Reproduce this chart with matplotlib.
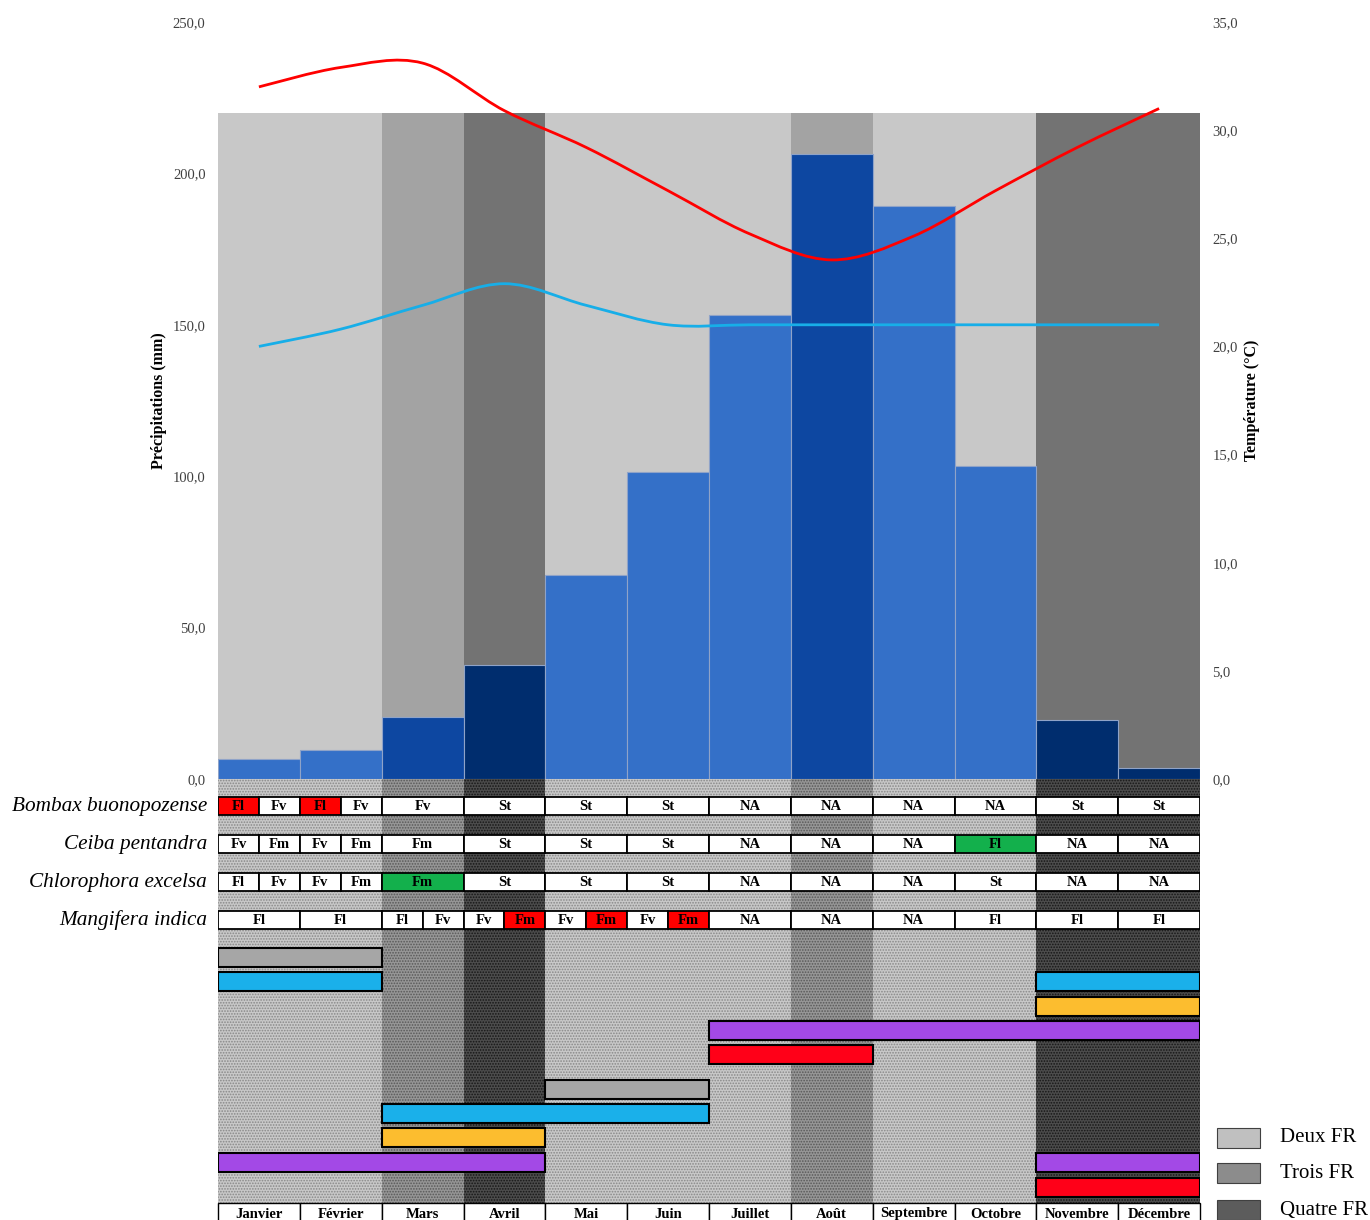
import matplotlib as mpl
mpl.use('Agg')
from matplotlib import pyplot as plt
from matplotlib.path import Path
from matplotlib.patches import PathPatch, Rectangle
from matplotlib.ticker import FuncFormatter
import numpy as np

plt.rcParams['font.family'] = ['Liberation Serif', 'DejaVu Serif']
plt.rcParams['hatch.linewidth'] = 0.8

#data
months = ['Janvier', 'Février', 'Mars', 'Avril', 'Mai', 'Juin', 'Juillet',
          'Août', 'Septembre', 'Octobre', 'Novembre', 'Décembre']
precip = [6.6, 9.6, 20.5, 37.6, 67.4, 101.4, 153.2, 206.4, 189.2, 103.4, 19.5, 3.6]
t_max = [32.0, 32.9, 33.1, 30.9, 29.2, 27.2, 25.2, 24.0, 25.1, 27.2, 29.2, 31.0]
t_min = [20.0, 20.8, 21.9, 22.9, 21.9, 21.0, 21.0, 21.0, 21.0, 21.0, 21.0, 21.0]
nb_fr = [2, 2, 3, 4, 2, 2, 2, 3, 2, 2, 4, 4]

# phenology ('|' splits the month, '*' = red, '+' = green)
species = ['Bombax buonopozense', 'Ceiba pentandra', 'Chlorophora excelsa', 'Mangifera indica']
bombax = ['Fl*|Fv', 'Fl*|Fv', 'Fv', 'St', 'St', 'St', 'NA', 'NA', 'NA', 'NA', 'St', 'St']
ceiba = ['Fv|Fm', 'Fv|Fm', 'Fm', 'St', 'St', 'St', 'NA', 'NA', 'NA', 'Fl+', 'NA', 'NA']
chloro = ['Fl|Fv', 'Fv|Fm', 'Fm+', 'St', 'St', 'St', 'NA', 'NA', 'NA', 'St', 'NA', 'NA']
mango = ['Fl', 'Fl', 'Fl|Fv', 'Fv|Fm*', 'Fv|Fm*', 'Fv|Fm*', 'NA', 'NA', 'NA', 'Fl', 'Fl', 'Fl']
pheno = [bombax, ceiba, chloro, mango]

# period bars (start month, end month, row, kind)
gantt_start = [0, 0, 10, 10, 6, 6, 4, 2, 2, 0, 10, 10]
gantt_end = [2, 2, 12, 12, 12, 8, 6, 6, 4, 4, 12, 12]
gantt_row = [0, 1, 1, 2, 3, 4, 5, 6, 7, 8, 8, 9]
gantt_kind = ['gris', 'bleu', 'bleu', 'orange', 'violet', 'rouge',
              'gris', 'bleu', 'orange', 'violet', 'violet', 'rouge']

legend_labels = ['Deux FR', 'Trois FR', 'Quatre FR']

#styles
bg_col = {2: '#c8c8c8', 3: '#a3a3a3', 4: '#737373'}
bar_col = {2: '#3470c8', 3: '#0d47a1', 4: '#002d6e'}
tex_face = {2: '#c8c8c8', 3: '#969696', 4: '#4c4c4c'}
tex_hatch = {2: '#888888', 3: '#585858', 4: '#161616'}
kind_col = {'gris': '#a6a6a6', 'bleu': '#1ab0ea', 'orange': '#fcbd2f',
            'violet': '#a349e6', 'rouge': '#ff0018'}
hl_col = {'*': '#ff0000', '+': '#13b04c'}
leg_col = ['#c0c0c0', '#8c8c8c', '#5c5c5c']

W, H = 1370, 1220
fig = plt.figure(figsize=(W / 100, H / 100), dpi=100)

x0, x1 = 218, 1200
ax = fig.add_axes([x0 / W, (H - 779) / H, (x1 - x0) / W, (779 - 22) / H])
x = np.arange(12) + 0.5

#background + precipitation
ax.bar(x, [220] * 12, width=1, color=[bg_col[n] for n in nb_fr], zorder=0)
ax.bar(x, precip, width=1, color=[bar_col[n] for n in nb_fr],
       edgecolor='#8fa3c8', linewidth=0.8, zorder=1)
ax.set_xlim(0, 12)
ax.set_ylim(0, 250)
ax.set_yticks(np.arange(0, 251, 50))
ax.set_xticks([])
fmt = FuncFormatter(lambda v, p: ('%.1f' % v).replace('.', ','))
ax.yaxis.set_major_formatter(fmt)
ax.tick_params(axis='y', length=0, pad=9, labelsize=10.5, labelcolor='#404040')
ax.set_ylabel('Précipitations (mm)', fontsize=11.5, fontweight='bold', labelpad=4)
for s in ax.spines.values():
    s.set_visible(False)

#temperature
axt = ax.twinx()
axt.set_ylim(0, 35)
axt.set_yticks(np.arange(0, 36, 5))
axt.yaxis.set_major_formatter(fmt)
axt.tick_params(axis='y', length=0, pad=9, labelsize=10.5, labelcolor='#404040')
axt.set_ylabel('Température (°C)', fontsize=11.5, fontweight='bold', labelpad=4)
for s in axt.spines.values():
    s.set_visible(False)


def smooth_path(xs, ys):
    pts = np.column_stack([xs, ys])
    n = len(pts)
    verts = [pts[0]]
    codes = [Path.MOVETO]
    for i in range(n - 1):
        p0 = pts[max(i - 1, 0)]
        p1 = pts[i]
        p2 = pts[i + 1]
        p3 = pts[min(i + 2, n - 1)]
        verts += [p1 + (p2 - p0) / 6, p2 - (p3 - p1) / 6, p2]
        codes += [Path.CURVE4] * 3
    return Path(verts, codes)


axt.add_patch(PathPatch(smooth_path(x, t_max), fill=False, edgecolor='#ff0000', lw=2.0))
axt.add_patch(PathPatch(smooth_path(x, t_min), fill=False, edgecolor='#17aee8', lw=2.0))

#lower panel (units: pixels below the chart)
axl = fig.add_axes([x0 / W, 0, (x1 - x0) / W, (H - 779) / H])
axl.set_xlim(0, 12)
axl.set_ylim(H - 779, 0)
axl.axis('off')

for m in range(12):
    axl.add_patch(Rectangle((m, 0), 1, 424, facecolor=tex_face[nb_fr[m]],
                            edgecolor=tex_hatch[nb_fr[m]], hatch='......', lw=0, zorder=0))

row_top = [18, 56, 94, 132]
for r, row in enumerate(pheno):
    y = row_top[r]
    for m, cell in enumerate(row):
        parts = cell.split('|')
        w = 1 / len(parts)
        for k, lab in enumerate(parts):
            fc = 'white'
            if lab[-1] in hl_col:
                fc = hl_col[lab[-1]]
                lab = lab[:-1]
            axl.add_patch(Rectangle((m + k * w, y), w, 18, facecolor=fc,
                                    edgecolor='black', lw=1.3, zorder=2))
            axl.text(m + (k + 0.5) * w, y + 9.5, lab, ha='center', va='center',
                     fontsize=10.5, fontweight='bold', zorder=3)
    axl.text(-11 / 81.8, y + 9, species[r], ha='right', va='center',
             fontsize=15.3, style='italic', clip_on=False)

gantt_top = [169, 193, 218, 242, 266, 301, 325, 349, 374, 399]
for s, e, r, k in zip(gantt_start, gantt_end, gantt_row, gantt_kind):
    axl.add_patch(Rectangle((s, gantt_top[r]), e - s, 19, facecolor=kind_col[k],
                            edgecolor='black', lw=1.5, zorder=2))

for m, name in enumerate(months):
    axl.add_patch(Rectangle((m, 424), 1, 40, facecolor='white', edgecolor='black',
                            lw=1.0, zorder=2, clip_on=False))
    axl.text(m + 0.5, 435, name, ha='center', va='center', fontsize=10.5,
             fontweight='bold', zorder=3, clip_on=False)

#legend
ov = fig.add_axes([0, 0, 1, 1], zorder=5)
ov.set_xlim(0, W)
ov.set_ylim(H, 0)
ov.axis('off')
for i, lab in enumerate(legend_labels):
    yc = [1138, 1173, 1210][i]
    ov.add_patch(Rectangle((1217, yc - 10), 43, 20, facecolor=leg_col[i],
                           edgecolor='#404040', lw=0.8))
    ov.text(1280, yc, lab, ha='left', va='center', fontsize=15)

fig.savefig('out.png', dpi=100)
